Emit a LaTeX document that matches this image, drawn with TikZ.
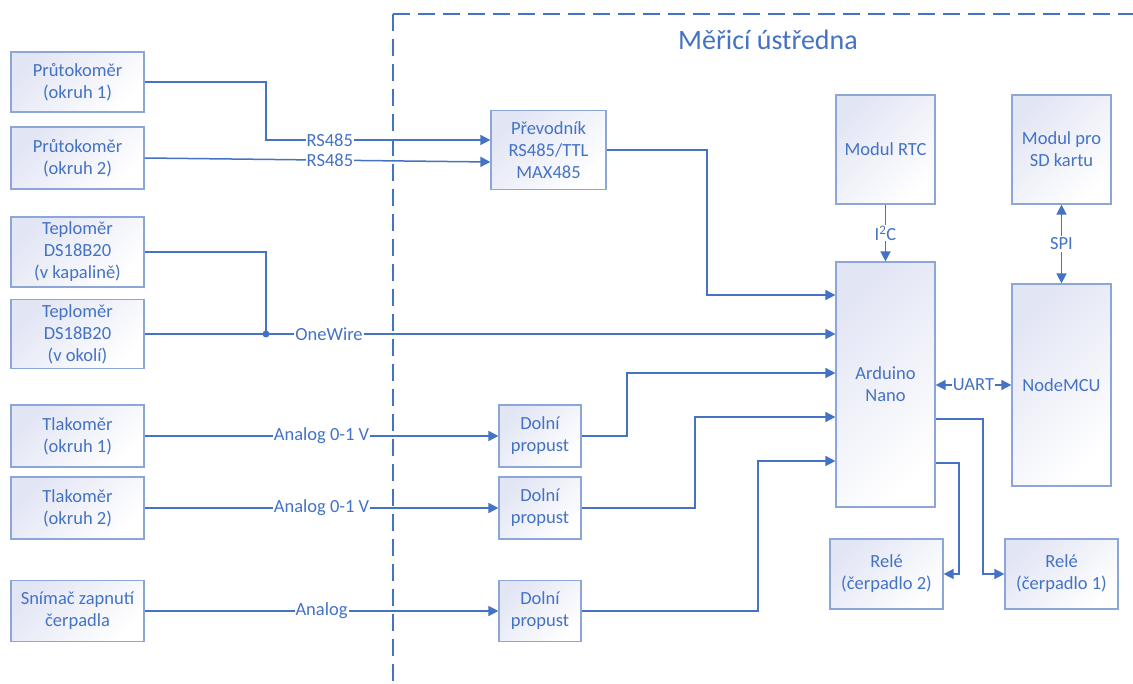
\documentclass[tikz,border=0pt]{standalone}
\usepackage{fontspec}
\setmainfont{Carlito}
\usetikzlibrary{arrows.meta}
\definecolor{lb}{RGB}{68,114,196}
\definecolor{bb}{RGB}{140,166,216}
\definecolor{bf}{RGB}{226,229,244}
\begin{document}
\begin{tikzpicture}[x=1pt,y=-1pt, font=\fontsize{18.5}{22}\selectfont,
  box/.style={draw=bb, line width=1.2pt, top color=bf, bottom color=white, shading angle=45, text=lb, align=center, inner sep=0pt},
  wire/.style={draw=lb, line width=1.5pt},
  arr/.style={wire, -{Triangle[length=10pt,width=10pt]}},
  darr/.style={wire, {Triangle[length=10pt,width=10pt]}-{Triangle[length=10pt,width=10pt]}},
  lbl/.style={fill=white, text=lb, inner xsep=1pt, inner ysep=0pt},
  bnd/.style={draw=lb, line width=1.3pt, dash pattern=on 17pt off 8pt}]
\useasboundingbox (0,0) rectangle (1133,684);
\fill[white] (0,0) rectangle (1133,684);

% boundary
\coordinate (d0) at (393,684);
\coordinate (d1) at (393,14);
\coordinate (d2) at (1133,14);
\draw[bnd] (d1) -- (d0);
\draw[bnd] (d1) -- (d2);
\node[text=lb, font=\fontsize{28}{34}\selectfont] (title) at (768,40) {Měřicí ústředna};

% left sensors
\node[box, minimum width=133pt, minimum height=60pt] (p1) at (77.5,82) {Průtokoměr\\(okruh 1)};
\node[box, minimum width=133pt, minimum height=62pt] (p2) at (77.5,158) {Průtokoměr\\(okruh 2)};
\node[box, minimum width=133pt, minimum height=70pt] (t1) at (77.5,252) {Teploměr\\DS18B20\\(v kapalině)};
\node[box, minimum width=133pt, minimum height=69pt] (t2) at (77.5,334) {Teploměr\\DS18B20\\(v okolí)};
\node[box, minimum width=133pt, minimum height=62pt] (k1) at (77.5,436) {Tlakoměr\\(okruh 1)};
\node[box, minimum width=133pt, minimum height=62pt] (k2) at (77.5,508) {Tlakoměr\\(okruh 2)};
\node[box, minimum width=133pt, minimum height=61pt] (s) at (77.5,611) {Snímač zapnutí\\čerpadla};

% inner blocks
\node[box, minimum width=115pt, minimum height=79pt] (conv) at (548.5,150) {Převodník\\RS485/TTL\\MAX485};
\node[box, minimum width=82pt, minimum height=62pt] (dp1) at (540,436) {Dolní\\propust};
\node[box, minimum width=82pt, minimum height=62pt] (dp2) at (540,508) {Dolní\\propust};
\node[box, minimum width=82pt, minimum height=61pt] (dp3) at (540,611) {Dolní\\propust};
\node[box, minimum width=99pt, minimum height=109pt] (rtc) at (885.5,149.5) {Modul RTC};
\node[box, minimum width=99pt, minimum height=109pt] (sd) at (1061.5,149.5) {Modul pro\\SD kartu};
\node[box, minimum width=99pt, minimum height=245pt] (ard) at (885.5,384.5) {Arduino\\Nano};
\node[box, minimum width=99pt, minimum height=202pt] (mcu) at (1061.5,385) {NodeMCU};
\node[box, minimum width=113pt, minimum height=70pt] (r2) at (886.5,574) {Relé\\(čerpadlo 2)};
\node[box, minimum width=113pt, minimum height=70pt] (r1) at (1061.5,574) {Relé\\(čerpadlo 1)};

% RS485
\coordinate (c1) at (266,140);
\draw[arr] (p1.east) -| (c1) -- node[lbl,pos=0.284]{RS485} (conv.west |- c1);
\draw[arr] (p2.east) -- node[lbl,pos=0.536]{RS485} ([yshift=-12pt]conv.west);
\coordinate (c2) at (707,295);
\draw[arr] (conv.east) -| (c2) -- (ard.west |- c2);

% OneWire
\coordinate (j) at (266,334);
\draw[wire] (t1.east) -| (j);
\draw[arr] (t2.east) -- node[lbl,pos=0.267]{OneWire} (ard.west |- t2.east);
\fill[lb] (j) circle (3.5pt);

% analog
\draw[arr] (k1.east) -- node[lbl]{Analog 0-1 V} (dp1.west);
\draw[arr] (k2.east) -- node[lbl]{Analog 0-1 V} (dp2.west);
\draw[arr] (s.east) -- node[lbl]{Analog} (dp3.west);
\coordinate (c3) at (627,373);
\coordinate (c4) at (695,417);
\coordinate (c5) at (758,461);
\draw[arr] (dp1.east) -| (c3) -- (ard.west |- c3);
\draw[arr] (dp2.east) -| (c4) -- (ard.west |- c4);
\draw[arr] (dp3.east) -| (c5) -- (ard.west |- c5);

% buses
\draw[arr] (rtc.south) -- node[lbl, inner ysep=1pt]{I\textsuperscript{2}C} (ard.north);
\draw[darr] (sd.south) -- node[lbl, inner ysep=2pt]{SPI} (mcu.north);
\draw[darr] (ard.east |- mcu.west) -- node[lbl]{UART} (mcu.west);

% relays
\coordinate (o1) at (983,419);
\coordinate (o2) at (959,463);
\draw[arr] (ard.east |- o1) -- (o1) |- (r1.west);
\draw[arr] (ard.east |- o2) -- (o2) |- (r2.east);
\end{tikzpicture}
\end{document}
